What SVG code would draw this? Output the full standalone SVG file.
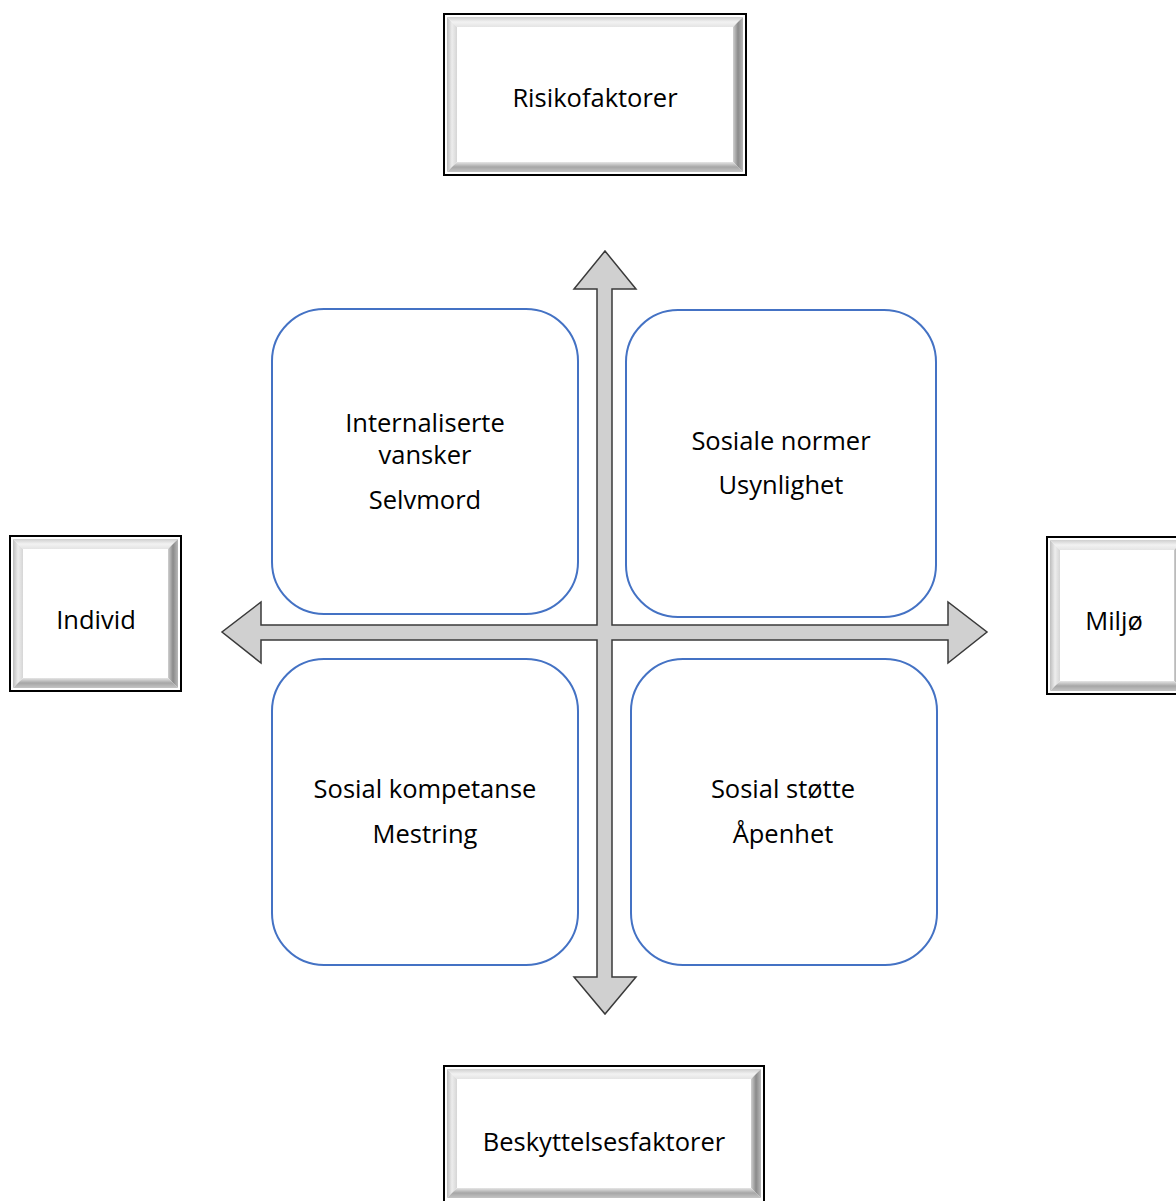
<svg xmlns="http://www.w3.org/2000/svg" width="1176" height="1201" viewBox="0 0 1176 1201">
<defs>
<linearGradient id="gT" x1="0" y1="0" x2="0" y2="1"><stop offset="0" stop-color="#cfcfcf"/><stop offset="0.5" stop-color="#f2f2f2"/><stop offset="1" stop-color="#e4e4e4"/></linearGradient>
<linearGradient id="gL" x1="0" y1="0" x2="1" y2="0"><stop offset="0" stop-color="#bdbdbd"/><stop offset="0.5" stop-color="#ededed"/><stop offset="1" stop-color="#d6d6d6"/></linearGradient>
<linearGradient id="gR" x1="0" y1="0" x2="1" y2="0"><stop offset="0" stop-color="#d0d0d0"/><stop offset="0.5" stop-color="#8a8a8a"/><stop offset="1" stop-color="#b8b8b8"/></linearGradient>
<linearGradient id="gB" x1="0" y1="0" x2="0" y2="1"><stop offset="0" stop-color="#e6e6e6"/><stop offset="0.5" stop-color="#a6a6a6"/><stop offset="1" stop-color="#c4c4c4"/></linearGradient>
</defs>
<style>
.frame{fill:#fff;stroke:#000;stroke-width:2}
.bt{fill:url(#gT)}.bl{fill:url(#gL)}.br{fill:url(#gR)}.bb{fill:url(#gB)}
.inner{fill:#fff}
.quad{fill:#fff;stroke:#4472c4;stroke-width:2}
.arrow{fill:#d0d0d0;stroke:#3a3a3a;stroke-width:1.5;stroke-linejoin:miter}
text{font-family:"Open Sans","Liberation Sans",sans-serif;font-size:25.5px;fill:#000;text-anchor:middle}
</style>

<g id="risikofaktorer">
<rect class="frame" x="444" y="14" width="302" height="161"/>
<polygon class="bt" points="447,17 743,17 733,27 457,27"/>
<polygon class="bl" points="447,17 457,27 457,162 447,172"/>
<polygon class="br" points="743,17 743,172 733,162 733,27"/>
<polygon class="bb" points="447,172 457,162 733,162 743,172"/>
<rect class="inner" x="457" y="27" width="276" height="135"/>
<text x="595" y="107">Risikofaktorer</text>
</g>

<g id="individ">
<rect class="frame" x="10" y="536" width="171" height="155"/>
<polygon class="bt" points="13,539 178,539 168,549 23,549"/>
<polygon class="bl" points="13,539 23,549 23,678 13,688"/>
<polygon class="br" points="178,539 178,688 168,678 168,549"/>
<polygon class="bb" points="13,688 23,678 168,678 178,688"/>
<rect class="inner" x="23" y="549" width="145" height="129"/>
<text x="96" y="629">Individ</text>
</g>

<g id="miljo">
<rect class="frame" x="1047" y="537" width="140" height="157"/>
<polygon class="bt" points="1050,540 1184,540 1174,550 1060,550"/>
<polygon class="bl" points="1050,540 1060,550 1060,681 1050,691"/>
<polygon class="br" points="1184,540 1184,691 1174,681 1174,550"/>
<polygon class="bb" points="1050,691 1060,681 1174,681 1184,691"/>
<rect class="inner" x="1060" y="550" width="114" height="131"/>
<text x="1114" y="630">Miljø</text>
</g>

<g id="beskyttelsesfaktorer">
<rect class="frame" x="444" y="1066" width="320" height="150"/>
<polygon class="bt" points="447,1069 761,1069 751,1079 457,1079"/>
<polygon class="bl" points="447,1069 457,1079 457,1188 447,1198"/>
<polygon class="br" points="761,1069 761,1198 751,1188 751,1079"/>
<polygon class="bb" points="447,1198 457,1188 751,1188 761,1198"/>
<rect class="inner" x="457" y="1079" width="294" height="109"/>
<text x="604" y="1151">Beskyttelsesfaktorer</text>
</g>

<g id="q-internaliserte">
<rect class="quad" x="272" y="309" width="306" height="305" rx="52"/>
<text x="425" y="432">Internaliserte</text>
<text x="425" y="464">vansker</text>
<text x="425" y="509">Selvmord</text>
</g>

<g id="q-sosiale-normer">
<rect class="quad" x="626" y="310" width="310" height="307" rx="52"/>
<text x="781" y="450">Sosiale normer</text>
<text x="781" y="494">Usynlighet</text>
</g>

<g id="q-sosial-kompetanse">
<rect class="quad" x="272" y="659" width="306" height="306" rx="52"/>
<text x="425" y="798">Sosial kompetanse</text>
<text x="425" y="843">Mestring</text>
</g>

<g id="q-sosial-stotte">
<rect class="quad" x="631" y="659" width="306" height="306" rx="52"/>
<text x="783" y="798">Sosial støtte</text>
<text x="783" y="843">Åpenhet</text>
</g>

<g id="connectors">
<polygon class="arrow" points="605,251 636,289 612,289 612,625 948,625 948,602 987,632 948,663 948,640 612,640 612,977 636,977 605,1014 574,977 597,977 597,640 261,640 261,663 222,632 261,602 261,625 597,625 597,289 574,289"/>
</g>
</svg>
